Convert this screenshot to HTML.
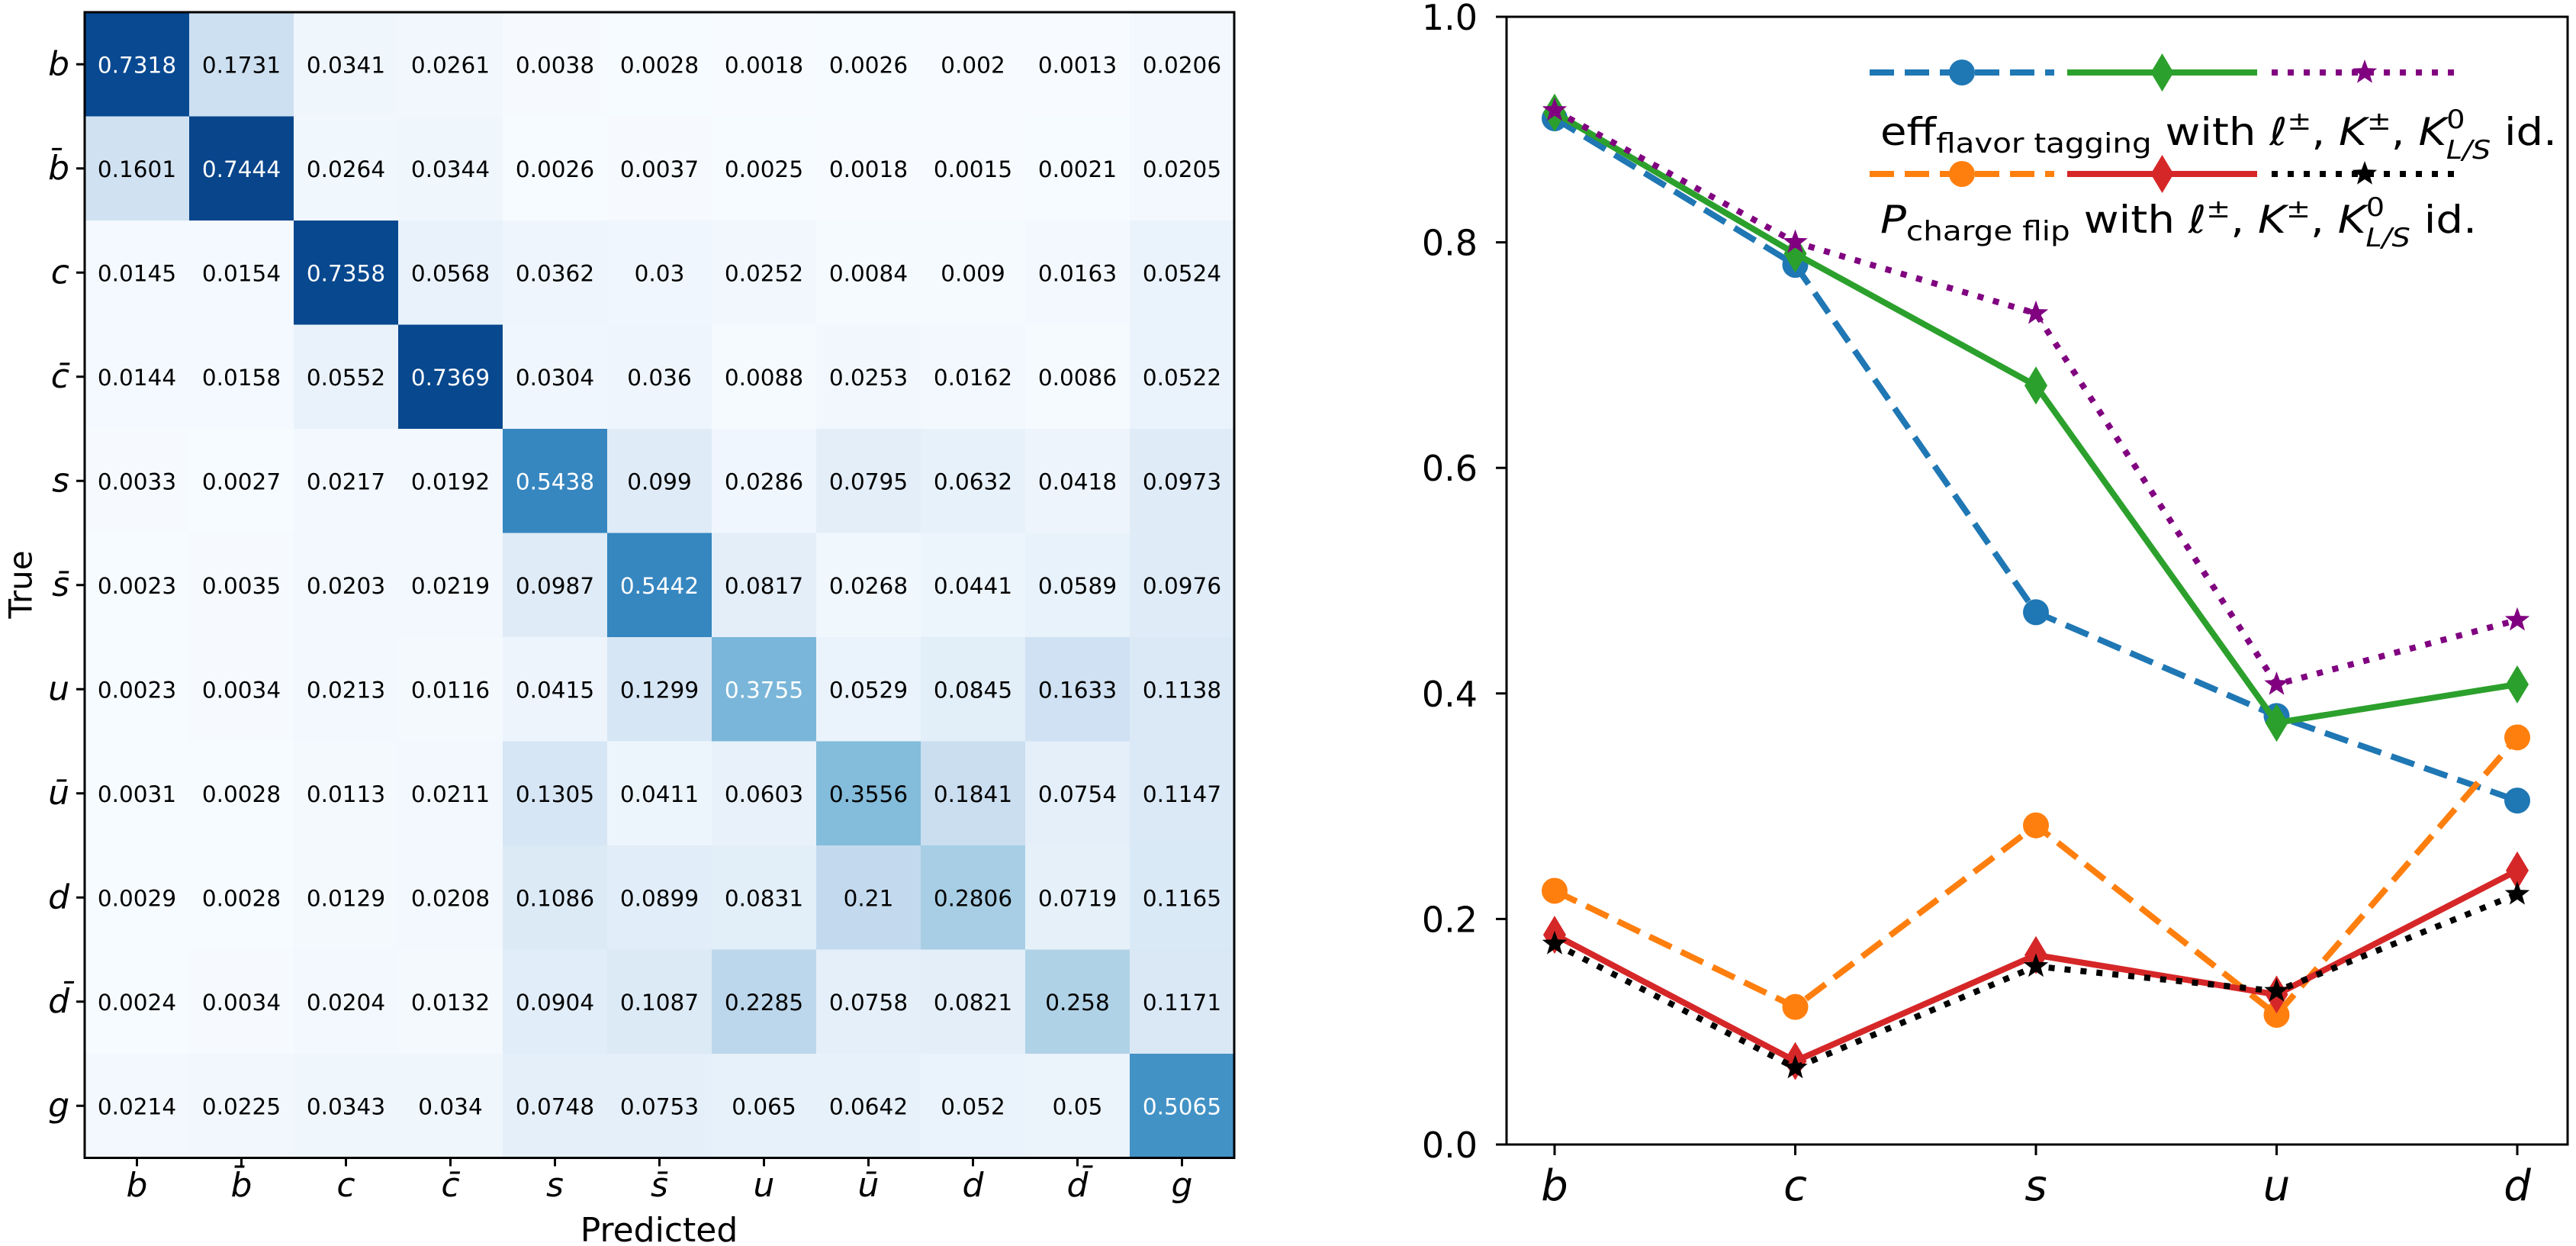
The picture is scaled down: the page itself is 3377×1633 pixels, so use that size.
<!DOCTYPE html>
<html><head><meta charset="utf-8"><style>html,body{margin:0;padding:0;background:#fff}svg{display:block}</style></head>
<body>
<svg id="s" width="3377" height="1633" xmlns="http://www.w3.org/2000/svg" font-family="DejaVu Sans, Liberation Sans, sans-serif">
<text x="30" y="766" font-size="42" text-anchor="middle" transform="rotate(-90 30 766)" dominant-baseline="middle">True</text>
<text x="864" y="1627" font-size="44" text-anchor="middle">Predicted</text>
</svg>
<script>
const S=document.getElementById('s'),NS='http://www.w3.org/2000/svg';
function el(t,a,txt){const e=document.createElementNS(NS,t);for(const k in a)e.setAttribute(k,a[k]);if(txt!==undefined)e.textContent=txt;S.appendChild(e);return e;}
const M=[
[0.7318,0.1731,0.0341,0.0261,0.0038,0.0028,0.0018,0.0026,0.002,0.0013,0.0206],
[0.1601,0.7444,0.0264,0.0344,0.0026,0.0037,0.0025,0.0018,0.0015,0.0021,0.0205],
[0.0145,0.0154,0.7358,0.0568,0.0362,0.03,0.0252,0.0084,0.009,0.0163,0.0524],
[0.0144,0.0158,0.0552,0.7369,0.0304,0.036,0.0088,0.0253,0.0162,0.0086,0.0522],
[0.0033,0.0027,0.0217,0.0192,0.5438,0.099,0.0286,0.0795,0.0632,0.0418,0.0973],
[0.0023,0.0035,0.0203,0.0219,0.0987,0.5442,0.0817,0.0268,0.0441,0.0589,0.0976],
[0.0023,0.0034,0.0213,0.0116,0.0415,0.1299,0.3755,0.0529,0.0845,0.1633,0.1138],
[0.0031,0.0028,0.0113,0.0211,0.1305,0.0411,0.0603,0.3556,0.1841,0.0754,0.1147],
[0.0029,0.0028,0.0129,0.0208,0.1086,0.0899,0.0831,0.21,0.2806,0.0719,0.1165],
[0.0024,0.0034,0.0204,0.0132,0.0904,0.1087,0.2285,0.0758,0.0821,0.258,0.1171],
[0.0214,0.0225,0.0343,0.034,0.0748,0.0753,0.065,0.0642,0.052,0.05,0.5065]];
const B=[[247,251,255],[222,235,247],[198,219,239],[158,202,225],[107,174,214],[66,146,198],[33,113,181],[8,81,156],[8,48,107]];
function cm(v){let t=Math.max(0,Math.min(1,v/0.81))*8;let i=Math.min(7,Math.floor(t)),f=t-i;const c=B[i].map((x,k)=>Math.round(x+(B[i+1][k]-x)*f));return`rgb(${c})`;}
const L=['b','b\u0304','c','c\u0304','s','s\u0304','u','u\u0304','d','d\u0304','g'];
const x0=111,y0=16,cw=137,ch=136.5;
for(let r=0;r<11;r++)for(let c=0;c<11;c++){const v=M[r][c];
el('rect',{x:x0+c*cw,y:y0+r*ch,width:cw+0.6,height:ch+0.6,fill:cm(v)});
el('text',{x:x0+c*cw+cw/2,y:y0+r*ch+ch/2+11,'font-size':29.5,'text-anchor':'middle',fill:v>0.365?'#fff':'#000'},String(v));}
el('rect',{x:x0,y:y0,width:11*cw,height:11*ch,fill:'none',stroke:'#000','stroke-width':3});
for(let i=0;i<11;i++){const cy=y0+i*ch+ch/2,cx=x0+i*cw+cw/2;
el('line',{x1:x0-11,x2:x0,y1:cy,y2:cy,stroke:'#000','stroke-width':3});
el('text',{x:x0-20,y:cy+14,'font-size':44,'font-style':'italic','text-anchor':'end'},L[i]);
el('line',{x1:cx,x2:cx,y1:y0+11*ch,y2:y0+11*ch+11,stroke:'#000','stroke-width':3});
el('text',{x:cx,y:1568,'font-size':44,'font-style':'italic','text-anchor':'middle'},L[i]);}
const ax0=1975,ax1=3366,ay0=1500,ay1=22,X=i=>2038+i*315.5,Y=v=>ay0-v*1478;
el('rect',{x:ax0,y:ay1,width:ax1-ax0,height:ay0-ay1,fill:'none',stroke:'#000','stroke-width':3});
for(let k=0;k<=5;k++){const y=Y(k*0.2);el('line',{x1:ax0-14,x2:ax0,y1:y,y2:y,stroke:'#000','stroke-width':3});
el('text',{x:1937,y:y+17,'font-size':46,'text-anchor':'end'},(k*0.2).toFixed(1));}
['b','c','s','u','d'].forEach((t,i)=>{el('line',{x1:X(i),x2:X(i),y1:ay0,y2:ay0+14,stroke:'#000','stroke-width':3});
el('text',{x:X(i),y:1573,'font-size':56,'font-style':'italic','text-anchor':'middle'},t);});
const ser=[
{c:'#1f77b4',d:'32 14',m:'o',v:[0.91,0.78,0.472,0.38,0.305]},
{c:'#2ca02c',d:'',m:'d',v:[0.915,0.79,0.673,0.374,0.408]},
{c:'#800080',d:'8 13',m:'*',v:[0.917,0.80,0.737,0.408,0.465]},
{c:'#ff7f0e',d:'32 14',m:'o',v:[0.225,0.122,0.283,0.115,0.361]},
{c:'#d62728',d:'',m:'d',v:[0.186,0.074,0.168,0.133,0.243]},
{c:'#000',d:'8 13',m:'*',v:[0.178,0.068,0.158,0.136,0.222]}];
function mk(m,x,y,c){if(m==='o')el('circle',{cx:x,cy:y,r:17,fill:c});
else if(m==='d')el('polygon',{points:`${x},${y-25} ${x+15},${y} ${x},${y+25} ${x-15},${y}`,fill:c});
else{let p=[];for(let k=0;k<10;k++){const a=-Math.PI/2+k*Math.PI/5,r=k%2?7:17;p.push((x+r*Math.cos(a)).toFixed(1)+','+(y+r*Math.sin(a)).toFixed(1));}el('polygon',{points:p.join(' '),fill:c});}}
ser.forEach(s=>{el('polyline',{points:s.v.map((v,i)=>X(i)+','+Y(v)).join(' '),fill:'none',stroke:s.c,'stroke-width':8,'stroke-dasharray':s.d||'none','stroke-linejoin':'round'});
s.v.forEach((v,i)=>mk(s.m,X(i),Y(v),s.c));});
const hx=[[2451,2693],[2710,2959],[2978,3222]];
[[0,95],[3,228]].forEach(([o,y])=>{for(let j=0;j<3;j++){const s=ser[o+j];
el('line',{x1:hx[j][0],x2:hx[j][1],y1:y,y2:y,stroke:s.c,'stroke-width':8,'stroke-dasharray':s.d||'none'});
mk(s.m,(hx[j][0]+hx[j][1])/2,y,s.c);}});
function leg(y,main,sub,w){const t=el('text',{x:2465,y:y,'font-size':50});
const a=document.createElementNS(NS,'tspan');a.textContent=main;a.setAttribute('font-style',main==='P'?'italic':'normal');t.appendChild(a);
const b=document.createElementNS(NS,'tspan');b.textContent=sub;b.setAttribute('font-size','36');b.setAttribute('dy','10');t.appendChild(b);
const parts=[[' with ','normal',-10,50,0],['\u2113','italic',0,50,0],['\u00b1','normal',-20,34,0],[', ','normal',20,50,0],['K','italic',0,50,0],['\u00b1','normal',-20,34,0],[', ','normal',20,50,0],['K','italic',0,50,0],['0','normal',-22,34,0],['L/S','italic',40,34,-22],[' id.','normal',-18,50,0]];
parts.forEach(([s,st,dy,fs,dx])=>{const e=document.createElementNS(NS,'tspan');e.textContent=s;e.setAttribute('font-style',st);e.setAttribute('dy',dy);if(dx)e.setAttribute('dx',dx);e.setAttribute('font-size',fs);t.appendChild(e);});
t.setAttribute('textLength',w);t.setAttribute('lengthAdjust','spacingAndGlyphs');}
leg(190,'eff','flavor tagging',887);
leg(305,'P','charge flip',782);
</script>
</body></html>
